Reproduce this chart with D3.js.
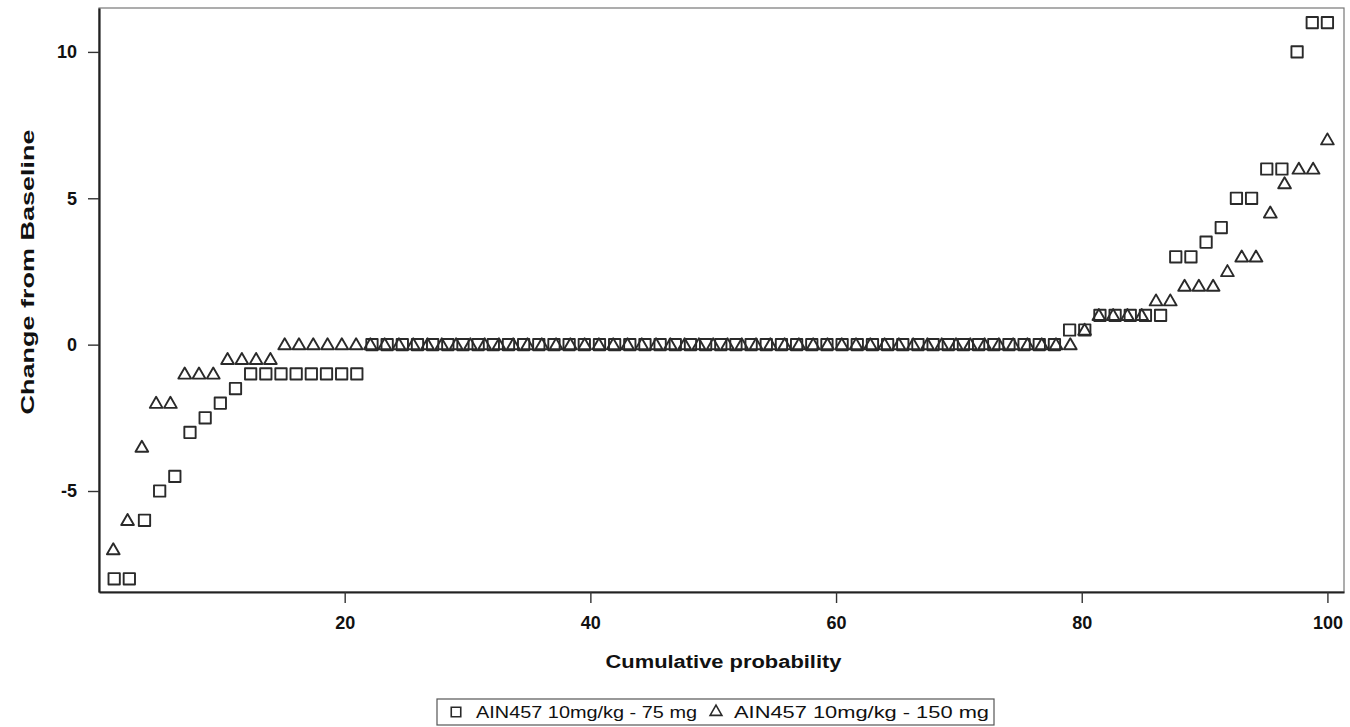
<!DOCTYPE html>
<html>
<head>
<meta charset="utf-8">
<script src="https://cdn.jsdelivr.net/npm/d3@7"></script>
<style>
  html, body { margin: 0; padding: 0; background: #fff; }
  svg { display: block; }
  text { font-family: "Liberation Sans", Arial, sans-serif; fill: #111; }
</style>
</head>
<body>
<svg id="chart" width="1350" height="727"></svg>
<script>
// Change from baseline, sorted ascending, per treatment arm
const dose75Values = [
  -8, -8, -6, -5, -4.5, -3, -2.5, -2, -1.5,
  -1, -1, -1, -1, -1, -1, -1, -1,
  0, 0, 0, 0, 0, 0, 0, 0, 0, 0, 0, 0, 0, 0, 0, 0, 0, 0, 0, 0, 0, 0, 0,
  0, 0, 0, 0, 0, 0, 0, 0, 0, 0, 0, 0, 0, 0, 0, 0, 0, 0, 0, 0, 0, 0, 0,
  0.5, 0.5,
  1, 1, 1, 1, 1,
  3, 3, 3.5, 4, 5, 5, 6, 6, 10, 11, 11
];
const dose150Values = [
  -7, -6, -3.5, -2, -2, -1, -1, -1, -0.5, -0.5, -0.5, -0.5,
  0, 0, 0, 0, 0, 0, 0, 0, 0, 0, 0, 0, 0, 0, 0, 0, 0, 0, 0, 0, 0, 0, 0, 0,
  0, 0, 0, 0, 0, 0, 0, 0, 0, 0, 0, 0, 0, 0, 0, 0, 0, 0, 0, 0, 0, 0, 0, 0,
  0, 0, 0, 0, 0, 0, 0, 0,
  0.5,
  1, 1, 1, 1,
  1.5, 1.5, 2, 2, 2, 2.5, 3, 3, 4.5, 5.5, 6, 6, 7
];
const seriesNames = ["AIN457 10mg/kg - 75 mg", "AIN457 10mg/kg - 150 mg"];
const xTicks = [20, 40, 60, 80, 100];
const yTicks = [-5, 0, 5, 10];

// cumulative probability (%) of each sorted observation
function toPoints(values) {
  const n = values.length;
  return values.map((v, i) => ({ p: (i + 1) / n * 100, v }));
}
const series = [
  { name: seriesNames[0], shape: "square", points: toPoints(dose75Values) },
  { name: seriesNames[1], shape: "triangle", points: toPoints(dose150Values) }
];

const svg = d3.select("#chart");
const plot = { left: 99, right: 1344, top: 8, bottom: 592 };

const x = d3.scaleLinear().domain([0, 101.35]).range([plot.left, plot.right]);
const y = d3.scaleLinear().domain([-8.45, 11.5]).range([plot.bottom, plot.top]);

const ink = "#2a2a2a";
const plainNum = d => String(d);   // hyphen-minus, as in the axis labels

// frame: light top/right, heavier axis lines
svg.append("rect")
  .attr("x", plot.left).attr("y", plot.top)
  .attr("width", plot.right - plot.left).attr("height", plot.bottom - plot.top)
  .attr("fill", "none").attr("stroke", "#777").attr("stroke-width", 1.2);

const xAxis = svg.append("g")
  .attr("transform", `translate(0,${plot.bottom})`)
  .call(d3.axisBottom(x).tickValues(xTicks).tickSizeInner(11).tickSizeOuter(0)
    .tickPadding(10).tickFormat(plainNum));
const yAxis = svg.append("g")
  .attr("transform", `translate(${plot.left},0)`)
  .call(d3.axisLeft(y).tickValues(yTicks).tickSizeInner(11).tickSizeOuter(0)
    .tickPadding(10).tickFormat(plainNum));

[xAxis, yAxis].forEach(g => {
  g.select(".domain").attr("stroke", "#222").attr("stroke-width", 2.2);
  g.selectAll(".tick line").attr("stroke", "#333").attr("stroke-width", 1.4);
  g.selectAll(".tick text")
    .attr("fill", "#111")
    .style("font-family", "'Liberation Sans', Arial, sans-serif")
    .style("font-weight", "bold")
    .style("font-size", "18px");
});
xAxis.selectAll(".tick text").attr("dy", "0.9em");
yAxis.selectAll(".tick text").attr("dx", "-1");

// axis titles
svg.append("text")
  .attr("x", (x(0) + x(101.35)) / 2 + 2).attr("y", 668)
  .attr("text-anchor", "middle")
  .attr("textLength", 236).attr("lengthAdjust", "spacingAndGlyphs")
  .style("font-weight", "bold").style("font-size", "18px")
  .text("Cumulative probability");

svg.append("text")
  .attr("transform", "translate(34,272) rotate(-90)")
  .attr("text-anchor", "middle")
  .attr("textLength", 285).attr("lengthAdjust", "spacingAndGlyphs")
  .style("font-weight", "bold").style("font-size", "18px")
  .text("Change from Baseline");

// marker symbols
const symSquare = d3.symbol().type(d3.symbolSquare).size(128);
const symTriangle = d3.symbol().type(d3.symbolTriangle).size(70);
const symbolFor = s => s === "square" ? symSquare() : symTriangle();

series.forEach(s => {
  svg.append("g")
    .selectAll("path")
    .data(s.points)
    .join("path")
    .attr("d", symbolFor(s.shape))
    .attr("transform", d => `translate(${x(d.p)},${y(d.v) + (s.shape === "triangle" ? 1 : 0)})`)
    .attr("fill", "none")
    .attr("stroke", ink)
    .attr("stroke-width", 1.9)
    .attr("stroke-linejoin", "round");
});

// legend
const legend = svg.append("g");
legend.append("rect")
  .attr("x", 437).attr("y", 699).attr("width", 557).attr("height", 26)
  .attr("fill", "#fff").attr("stroke", "#555").attr("stroke-width", 1.2);

const legendItems = [
  { shape: "square", name: seriesNames[0], mx: 456, tx: 476, tw: 221 },
  { shape: "triangle", name: seriesNames[1], mx: 716, tx: 734, tw: 255 }
];
legendItems.forEach(it => {
  legend.append("path")
    .attr("d", it.shape === "square"
      ? d3.symbol().type(d3.symbolSquare).size(90)()
      : d3.symbol().type(d3.symbolTriangle).size(60)())
    .attr("transform", `translate(${it.mx},${712})`)
    .attr("fill", "none").attr("stroke", ink).attr("stroke-width", 1.6);
  legend.append("text")
    .attr("x", it.tx).attr("y", 718)
    .attr("textLength", it.tw).attr("lengthAdjust", "spacingAndGlyphs")
    .style("font-size", "17px")
    .text(it.name);
});
</script>
</body>
</html>
